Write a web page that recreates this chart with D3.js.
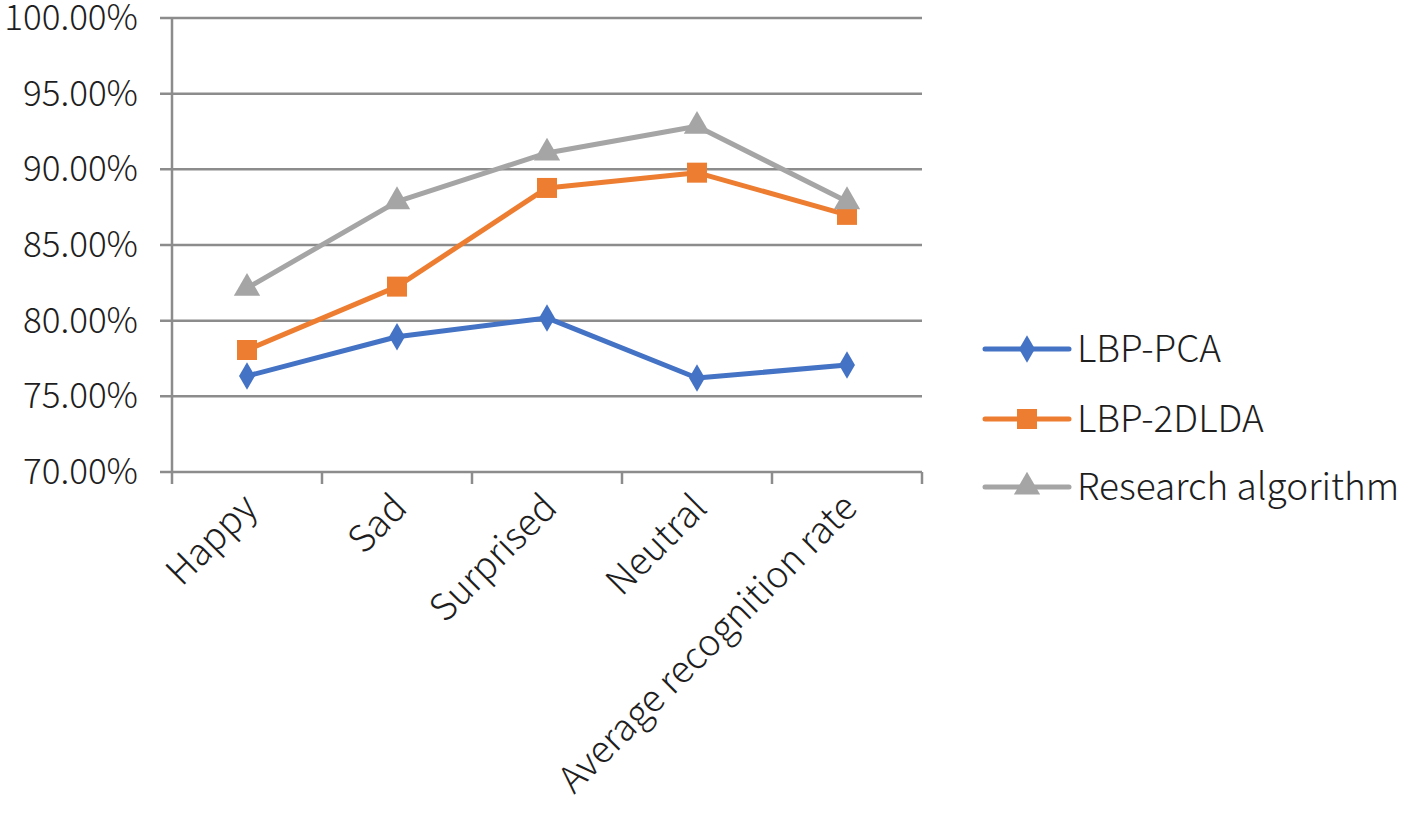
<!DOCTYPE html>
<html>
<head>
  <title>Recognition rate</title>
  <style type="text/css">
    body { margin: 0; background: #fff; }
    svg text { font-family: "Noto Sans CJK SC", "Noto Sans", sans-serif; font-weight: 300; fill: #1e1e1e; }
    .grid line { stroke: #8c8c8c; stroke-width: 2.5px; }
    .series-line { fill: none; stroke-width: 5px; stroke-linejoin: round; stroke-linecap: round; }
  </style>
</head>
<body>
  <div id="chart"></div>

  <script type="text/javascript" src="https://cdnjs.cloudflare.com/ajax/libs/d3/7.8.5/d3.min.js"></script>
  <script type="text/javascript">
  // data
  var categories = ['Happy', 'Sad', 'Surprised', 'Neutral', 'Average recognition rate'];
  var seriesNames = ['LBP-PCA', 'LBP-2DLDA', 'Research algorithm'];
  var lbpPca = [76.34, 78.94, 80.18, 76.21, 77.07];
  var lbp2dlda = [78.06, 82.25, 88.77, 89.78, 86.99];
  var research = [82.15, 87.87, 91.08, 92.85, 87.87];
  var yTicks = [70, 75, 80, 85, 90, 95, 100];

  var colors = ['#4472c4', '#ed7d31', '#a5a5a5'];
  var shapes = [d3.symbolDiamond, d3.symbolSquare, d3.symbolTriangle];
  var shapeSize = [220, 400, 300];
  var allValues = [lbpPca, lbp2dlda, research];

  var cfg = { w: 1418, h: 833, left: 172, right: 922, top: 18, bottom: 472 };

  var svg = d3.select('#chart').append('svg')
    .attr('width', cfg.w)
    .attr('height', cfg.h);

  var xSc = d3.scaleBand().domain(categories).range([cfg.left, cfg.right]);
  var ySc = d3.scaleLinear().domain([70, 100]).range([cfg.bottom, cfg.top]);

  // gridlines + y labels
  var grid = svg.append('g').classed('grid', true);
  grid.selectAll('line')
    .data(yTicks)
    .enter()
    .append('line')
    .attr('x1', cfg.left - 12)
    .attr('x2', cfg.right)
    .attr('y1', function(d) { return ySc(d) })
    .attr('y2', function(d) { return ySc(d) });

  svg.selectAll('text.ylab')
    .data(yTicks)
    .enter()
    .append('text')
    .classed('ylab', true)
    .attr('x', cfg.left - 34)
    .attr('y', function(d) { return ySc(d) + 12 })
    .attr('text-anchor', 'end')
    .style('font-size', '35px')
    .text(function(d) { return d.toFixed(2) + '%' });

  // y axis line
  grid.append('line')
    .attr('x1', cfg.left).attr('x2', cfg.left)
    .attr('y1', cfg.top).attr('y2', cfg.bottom + 12);

  // x ticks at band edges
  var edges = categories.map(function(c) { return xSc(c) }).concat([cfg.right]);
  grid.selectAll('line.xtick')
    .data(edges.slice(1))
    .enter()
    .append('line')
    .attr('x1', function(d) { return d }).attr('x2', function(d) { return d })
    .attr('y1', cfg.bottom).attr('y2', cfg.bottom + 12);

  // rotated category labels
  svg.selectAll('text.xlab')
    .data(categories)
    .enter()
    .append('text')
    .classed('xlab', true)
    .attr('text-anchor', 'end')
    .attr('transform', function(d) {
      var x = xSc(d) + xSc.bandwidth() / 2 + 12;
      return 'translate(' + x + ',' + (cfg.bottom + 38) + ') rotate(-45)';
    })
    .style('font-size', '37px')
    .text(function(d) { return d });

  // series
  var line = d3.line()
    .x(function(d, i) { return xSc(categories[i]) + xSc.bandwidth() / 2 })
    .y(function(d) { return ySc(d) });

  allValues.forEach(function(vals, s) {
    svg.append('path')
      .datum(vals)
      .classed('series-line', true)
      .attr('stroke', colors[s])
      .attr('d', line);

    svg.selectAll('path.mk' + s)
      .data(vals)
      .enter()
      .append('path')
      .classed('mk' + s, true)
      .attr('fill', colors[s])
      .attr('d', d3.symbol().type(shapes[s]).size(shapeSize[s]))
      .attr('transform', function(d, i) {
        var x = xSc(categories[i]) + xSc.bandwidth() / 2;
        return 'translate(' + x + ',' + ySc(d) + ')';
      });
  });

  // legend
  var legendY = [349, 419, 487];
  var leg = svg.selectAll('g.legend')
    .data(seriesNames)
    .enter()
    .append('g')
    .classed('legend', true)
    .attr('transform', function(d, i) { return 'translate(985,' + legendY[i] + ')' });

  leg.append('line')
    .attr('x1', 0).attr('x2', 84)
    .attr('y1', 0).attr('y2', 0)
    .attr('stroke', function(d, i) { return colors[i] })
    .attr('stroke-width', 5)
    .attr('stroke-linecap', 'round');

  leg.append('path')
    .attr('fill', function(d, i) { return colors[i] })
    .attr('d', function(d, i) { return d3.symbol().type(shapes[i]).size(shapeSize[i])() })
    .attr('transform', 'translate(42,0)');

  leg.append('text')
    .attr('x', 92)
    .attr('y', 13)
    .style('font-size', '37px')
    .text(function(d) { return d });
  </script>
</body>
</html>
